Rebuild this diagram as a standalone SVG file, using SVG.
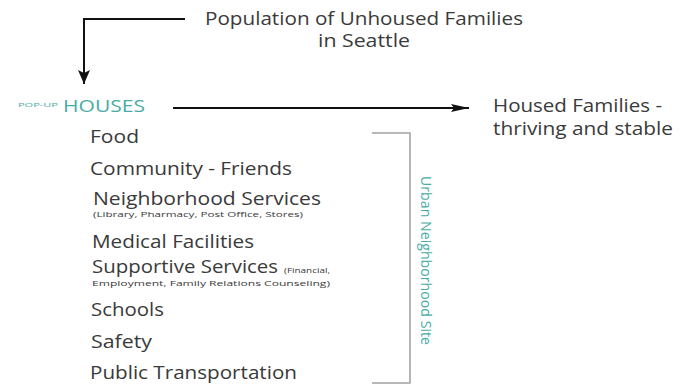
<svg xmlns="http://www.w3.org/2000/svg" width="681" height="387" viewBox="0 0 681 387">
<defs>
<style>
.t{font-family:"Open Sans","Liberation Sans",sans-serif;fill:#3a3a3a;}
.big{font-size:17.5px;}
.item{font-size:18px;}
.small{font-size:7.5px;}
.teal{fill:#48aca6;font-family:"Open Sans","Liberation Sans",sans-serif;}
.conn{stroke:#111;stroke-width:2;fill:none;}
.br{stroke:#a3a3a3;stroke-width:1.6;fill:none;}
</style>
<marker id="ahV" markerUnits="userSpaceOnUse" markerWidth="16" markerHeight="16" viewBox="0 0 16 16" refX="14" refY="8" orient="auto">
<path d="M0,2 L14,8 L0,14 L3,8 Z" fill="#111"/>
</marker>
<marker id="ahH" markerUnits="userSpaceOnUse" markerWidth="20" markerHeight="12" viewBox="0 0 20 12" refX="18" refY="6" orient="auto">
<path d="M0,2 L18,6 L0,10 L3,6 Z" fill="#111"/>
</marker>
</defs>
<g id="connectors">
<path class="conn" d="M185,19 H84 V84" marker-end="url(#ahV)"/>
<path class="conn" d="M173,108 H469" marker-end="url(#ahH)"/>
<path class="br" d="M372,133 H410 V383 H372"/>
</g>
<g id="population">
<text class="t big" x="205" y="25" textLength="318" lengthAdjust="spacingAndGlyphs">Population of Unhoused Families</text>
<text class="t big" x="318" y="47" textLength="92" lengthAdjust="spacingAndGlyphs">in Seattle</text>
</g>
<g id="popup-houses">
<text class="teal" x="18" y="107" font-size="6" textLength="40" lengthAdjust="spacingAndGlyphs">POP-UP</text>
<text class="teal" x="63" y="112" font-size="17" textLength="82" lengthAdjust="spacingAndGlyphs">HOUSES</text>
</g>
<g id="housed-families">
<text class="t big" x="493" y="112" textLength="169" lengthAdjust="spacingAndGlyphs">Housed Families -</text>
<text class="t big" x="493" y="135" textLength="180" lengthAdjust="spacingAndGlyphs">thriving and stable</text>
</g>
<g id="list">
<text class="t item" x="90" y="143" textLength="49" lengthAdjust="spacingAndGlyphs">Food</text>
<text class="t item" x="90" y="175" textLength="202" lengthAdjust="spacingAndGlyphs">Community - Friends</text>
<text class="t item" x="93" y="205" textLength="228" lengthAdjust="spacingAndGlyphs">Neighborhood Services</text>
<text class="t small" x="93" y="217" textLength="210" lengthAdjust="spacingAndGlyphs">(Library, Pharmacy, Post Office, Stores)</text>
<text class="t item" x="92" y="248" textLength="162" lengthAdjust="spacingAndGlyphs">Medical Facilities</text>
<text class="t item" x="92" y="273" textLength="186" lengthAdjust="spacingAndGlyphs">Supportive Services</text>
<text class="t small" x="284" y="273" textLength="46" lengthAdjust="spacingAndGlyphs">(Financial,</text>
<text class="t small" x="92" y="286" textLength="238" lengthAdjust="spacingAndGlyphs">Employment, Family Relations Counseling)</text>
<text class="t item" x="91" y="316" textLength="73" lengthAdjust="spacingAndGlyphs">Schools</text>
<text class="t item" x="91" y="348" textLength="61" lengthAdjust="spacingAndGlyphs">Safety</text>
<text class="t item" x="90" y="379" textLength="207" lengthAdjust="spacingAndGlyphs">Public Transportation</text>
</g>
<g id="urban-site">
<text class="teal" font-size="14" transform="translate(421,176) rotate(90)" textLength="169" lengthAdjust="spacingAndGlyphs">Urban Neighborhood Site</text>
</g>
</svg>
